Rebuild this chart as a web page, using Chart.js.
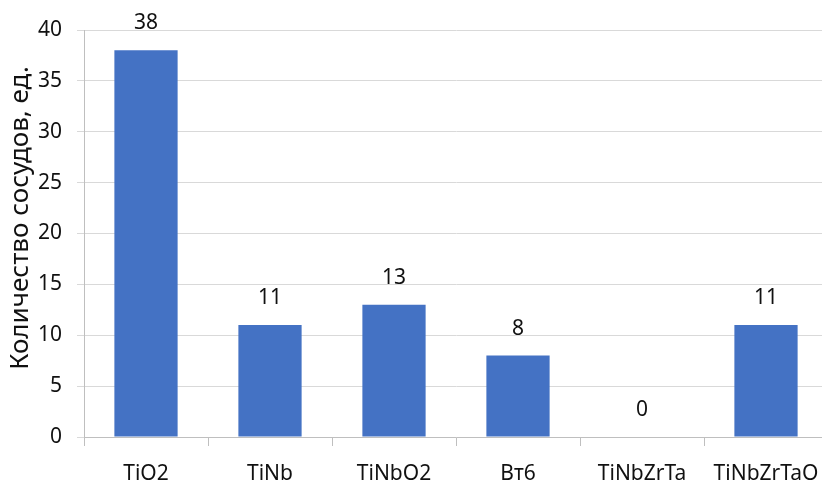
<!DOCTYPE html>
<html>
<head>
<meta charset="utf-8">
<script src="https://cdn.jsdelivr.net/npm/chart.js@4"></script>
<style>
  html, body { margin: 0; padding: 0; background: #fff; overflow: hidden; }
  #wrap { width: 828px; height: 485px; }
</style>
</head>
<body>
<div id="wrap"><canvas id="barChart"></canvas></div>
<script>
const categories = ['TiO2', 'TiNb', 'TiNbO2', 'Вт6', 'TiNbZrTa', 'TiNbZrTaO'];
const vessels = [38, 11, 13, 8, 0, 11];
const yTitle = 'Количество сосудов, ед.';

const FONT = "'Noto Sans', sans-serif";

// value labels above bars + y axis title (sits a bit above the middle in the original)
const valueLabels = {
  id: 'valueLabels',
  afterDraw(chart) {
    const ctx = chart.ctx;
    ctx.save();
    ctx.font = '21px ' + FONT;
    ctx.fillStyle = '#111';
    ctx.textAlign = 'center';
    ctx.textBaseline = 'middle';
    chart.getDatasetMeta(0).data.forEach((bar, i) => {
      ctx.fillText(String(vessels[i]), bar.x, bar.y - 27);
    });
    ctx.translate(21, 218);
    ctx.rotate(-Math.PI / 2);
    ctx.font = '26px ' + FONT;
    ctx.fillText(yTitle, 0, 0);
    ctx.restore();
  }
};

const config = {
  type: 'bar',
  data: {
    labels: categories,
    datasets: [{
      data: vessels,
      backgroundColor: '#4472C4',
      barPercentage: 1,
      categoryPercentage: 0.51
    }]
  },
  options: {
    responsive: true,
    maintainAspectRatio: false,
    animation: false,
    layout: { padding: { top: 30, left: 0, right: 0, bottom: 0 } },
    plugins: { legend: { display: false }, tooltip: { enabled: false } },
    scales: {
      x: {
        afterFit: (s) => { s.height = 48; s.paddingLeft = 0; s.paddingRight = 0; },
        grid: { drawOnChartArea: false, drawTicks: true, tickLength: 9, color: '#bfbfbf' },
        border: { color: '#bfbfbf' },
        ticks: { color: '#111', font: { family: FONT, size: 21 }, padding: 15, maxRotation: 0 }
      },
      y: {
        min: 0,
        max: 40,
        afterFit: (s) => { s.width = 84; },
        grid: { color: '#d9d9d9', tickLength: 7 },
        border: { color: '#bfbfbf' },
        ticks: { stepSize: 5, color: '#111', font: { family: FONT, size: 21 }, padding: 15 }
      }
    }
  },
  plugins: [valueLabels]
};

const barChart = new Chart(document.getElementById('barChart'), config);
</script>
</body>
</html>
